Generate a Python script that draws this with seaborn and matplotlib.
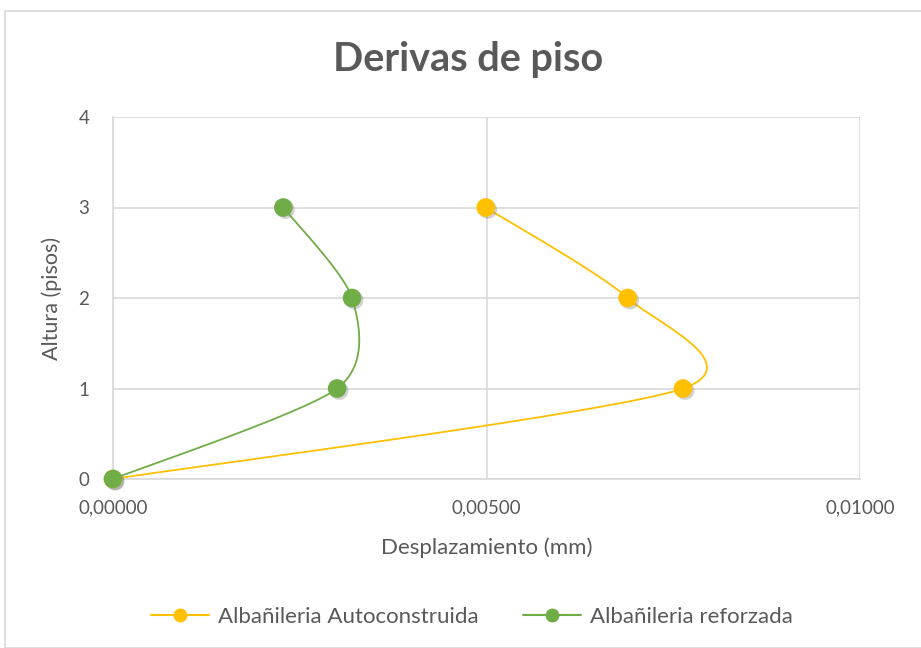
"""Derivas de piso: Excel-style smoothed scatter of story drift vs. height."""
import matplotlib
matplotlib.use("Agg")
import matplotlib.pyplot as plt
import matplotlib.patheffects as pe
from matplotlib.lines import Line2D
from matplotlib.patches import Rectangle
from matplotlib.ticker import FuncFormatter
import numpy as np
import pandas as pd
import seaborn as sns

# --- data ---
pisos = [0, 1, 2, 3]
desp_autoconstruida = [0.0, 0.00763, 0.00689, 0.00499]
desp_reforzada = [0.0, 0.00300, 0.00320, 0.00228]
series_names = ["Albañileria Autoconstruida", "Albañileria reforzada"]
colors = ["#FFC000", "#70AD47"]

TEXT = "#595959"
GRID = "#D9D9D9"


def smooth(xs, ys, n=40, k=7.5):
    """Bezier curve through the points (like Excel 'smoothed line')."""
    pts = np.column_stack([xs, ys]).astype(float)
    p = np.vstack([pts[0], pts, pts[-1]])
    out = []
    for i in range(1, len(p) - 2):
        p0, p1, p2, p3 = p[i - 1], p[i], p[i + 1], p[i + 2]
        c1 = p1 + (p2 - p0) / k
        c2 = p2 - (p3 - p1) / k
        t = np.linspace(0, 1, n)[:, None]
        seg = ((1 - t) ** 3) * p1 + 3 * ((1 - t) ** 2) * t * c1 \
            + 3 * (1 - t) * t ** 2 * c2 + t ** 3 * p2
        out.append(seg if i == 1 else seg[1:])
    out = np.vstack(out)
    return out[:, 0], out[:, 1]


df = pd.concat([
    pd.DataFrame({"x": desp_autoconstruida, "y": pisos, "serie": series_names[0]}),
    pd.DataFrame({"x": desp_reforzada, "y": pisos, "serie": series_names[1]}),
])

sns.set_theme(style="white")
plt.rcParams["font.family"] = ["Lato", "DejaVu Sans"]

fig = plt.figure(figsize=(9.21, 6.48), dpi=100)
ax = fig.add_axes([113 / 921, 1 - 479 / 648, (860 - 113) / 921, (479 - 117) / 648])

fig.patches.append(Rectangle((5 / 921, 0), 1, 1 - 11 / 648, transform=fig.transFigure,
                             fill=False, edgecolor=GRID, linewidth=1.2))

for name, col in zip(series_names, colors):
    sub = df[df["serie"] == name]
    sx, sy = smooth(sub["x"].values, sub["y"].values)
    ax.plot(sx, sy, color=col, linewidth=1.3, zorder=3)
sns.scatterplot(data=df, x="x", y="y", hue="serie", palette=colors, s=180,
                edgecolor="none", legend=False, ax=ax, zorder=4, clip_on=False)
ax.collections[-1].set_path_effects(
    [pe.SimplePatchShadow(offset=(1.5, -1.5), shadow_rgbFace="#7f7f7f", alpha=0.35),
     pe.Normal()])

ax.set_xlim(0, 0.01)
ax.set_ylim(0, 4)
ax.set_xticks([0, 0.005, 0.01])
ax.set_yticks([0, 1, 2, 3, 4])
ax.xaxis.set_major_formatter(FuncFormatter(lambda v, _: f"{v:.5f}".replace(".", ",")))
ax.grid(True, color=GRID, linewidth=1.2)
ax.set_axisbelow(True)
for side in ["top", "right"]:
    ax.spines[side].set_visible(False)
for side in ["left", "bottom"]:
    ax.spines[side].set_color(GRID)
    ax.spines[side].set_linewidth(1.2)
ax.tick_params(colors=TEXT, labelsize=13.5, length=0)
ax.tick_params(axis="x", pad=15)
ax.tick_params(axis="y", pad=17)

ax.set_xlabel("Desplazamiento (mm)", color=TEXT, fontsize=16, labelpad=15)
ax.set_ylabel("Altura (pisos)", color=TEXT, fontsize=15.5, labelpad=12)
fig.text(468 / 921, 1 - 60 / 648, "Derivas de piso", ha="center", va="center",
         fontsize=28.5, fontweight="bold", color=TEXT)

handles = [Line2D([], [], color=c, marker="o", markersize=10, linewidth=1.5,
                  markeredgewidth=0) for c in colors]
fig.legend(handles, series_names, loc="center",
           bbox_to_anchor=(472 / 921, 1 - 617 / 648),
           ncol=2, frameon=False, fontsize=16, labelcolor=TEXT, handlelength=2.6,
           handletextpad=0.4, columnspacing=2.0)

fig.savefig("out.png", dpi=100)
plt.close(fig)
